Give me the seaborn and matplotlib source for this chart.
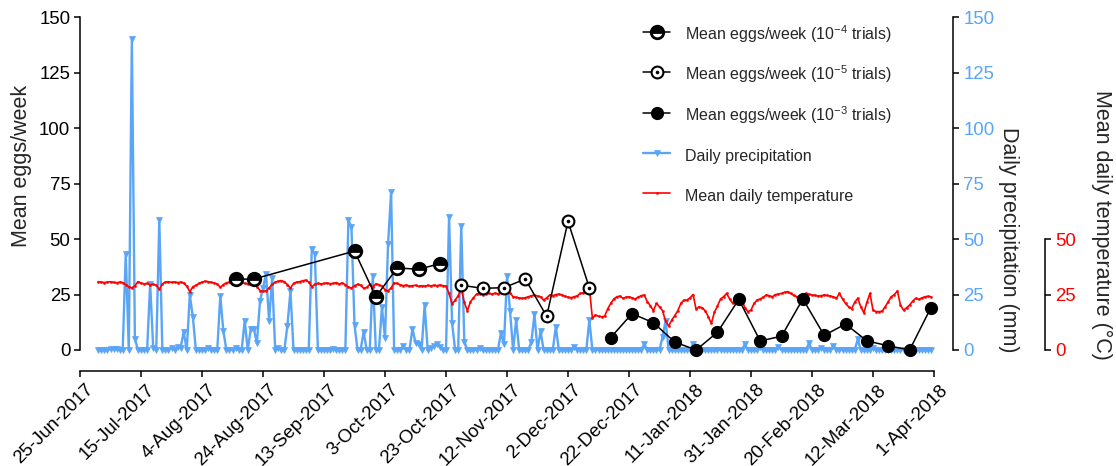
import numpy as np
import pandas as pd
import matplotlib
matplotlib.use("Agg")
import matplotlib.pyplot as plt
import matplotlib.transforms as mtransforms
import seaborn as sns

# ---------------- data ----------------
eggs_4_dates = ["2017-08-15", "2017-08-21", "2017-09-23", "2017-09-30", "2017-10-07", "2017-10-14", "2017-10-21"]
eggs_4_vals = [31.9, 32.0, 44.6, 24.0, 37.0, 36.4, 38.9]

eggs_5_dates = ["2017-10-28", "2017-11-04", "2017-11-11", "2017-11-18", "2017-11-25", "2017-12-02", "2017-12-09"]
eggs_5_vals = [29.2, 27.8, 28.1, 32.0, 15.2, 58.0, 28.0]

eggs_3_dates = ["2017-12-16", "2017-12-23", "2017-12-30", "2018-01-06", "2018-01-13", "2018-01-20",
                "2018-01-27", "2018-02-03", "2018-02-10", "2018-02-17", "2018-02-24", "2018-03-03",
                "2018-03-10", "2018-03-17", "2018-03-24", "2018-03-31"]
eggs_3_vals = [5.6, 16.4, 12.3, 3.6, 0.0, 8.0, 22.8, 4.1, 6.2, 23.0, 6.6, 11.7, 4.1, 1.9, 0.0, 19.1]

# daily precipitation (mm), one list per month
precip_jul = [0, 0, 0, 0, 0.5, 0.5, 0.5, 0, 0, 43.4, 0, 140, 5, 0, 0, 0, 0, 29.8, 1, 0, 58.7, 0, 0, 0, 1, 0, 1.5, 1, 8.3, 0, 24.8]
precip_aug = [14.9, 0, 0, 0, 0, 1, 0, 0, 0, 24.4, 8.5, 0, 0, 0, 1, 0, 0, 13.2, 0, 9.5, 9.5, 3, 22, 28, 34.3, 13.2, 32.4, 0, 1, 0, 0]
precip_sep = [11, 26.6, 0, 0, 0, 0, 0, 0, 45.5, 43.4, 0, 0, 0, 0, 0, 0.5, 0, 0, 0, 0, 58.5, 55.6, 11.3, 0, 0, 8.3, 0, 0, 33.2, 0]
precip_oct = [0, 19.5, 5.3, 47.6, 71.1, 0, 0, 0, 2, 0, 0, 9.5, 3.3, 2.5, 0, 20.3, 0, 0.7, 1.7, 2.7, 1.5, 0, 0, 60.1, 12, 0, 0, 55.9, 3.8, 0, 0]
precip_nov = [0, 0, 1, 0, 0, 0, 0, 0, 0, 7.5, 2.5, 33.4, 17.4, 0, 13.5, 0, 0, 0, 0, 3.8, 16.1, 0, 8.6, 0, 0, 0, 0, 10.5, 0, 0]
precip_dec = [0, 0, 0, 1.5, 0, 0, 0, 0, 13.5, 0, 0, 0, 0, 0, 0, 0, 0, 0, 0, 0, 0, 0, 0, 0, 0, 0, 2.7, 0, 0, 0, 0]
precip_jan = [0, 6, 13.2, 0, 0, 0, 0, 0, 0, 0, 0, 2.7, 0, 0, 0, 0, 0, 0, 0, 0, 0, 0, 0, 0, 0, 0, 0, 0, 2.7, 0, 0]
precip_feb = [0, 0, 1.5, 0, 0, 0, 0, 0, 1.5, 0, 0, 0, 0, 0, 0, 0, 0, 0, 3, 0, 0, 0, 1, 0, 0, 0, 2, 0]
precip_mar = [0, 0, 0, 0, 0, 0, 4.8, 0, 0, 0, 0, 1, 0, 0, 0, 0, 0, 0, 0, 0, 0, 0, 0, 0, 0, 0, 0, 0, 0, 0, 0]

# mean daily temperature (deg C), one list per month
temp_jul = [30.8, 30.6, 30.4, 30.6, 30.8, 30.5, 30.3, 30.6, 30.4, 29.5, 28.5, 28.0, 29.0, 30.8, 30.2, 29.8,
            30.0, 29.4, 29.6, 29.2, 27.3, 29.8, 30.6, 30.8, 30.5, 30.7, 30.4, 30.6, 30.2, 28.8, 26.3]
temp_aug = [28.5, 29.2, 30.0, 30.6, 31.0, 30.8, 30.5, 30.2, 29.8, 28.2, 29.5, 30.3, 30.6, 30.8, 30.6, 30.2,
            30.5, 30.0, 29.8, 30.4, 29.6, 28.6, 26.8, 26.4, 26.6, 28.0, 29.6, 30.6, 31.0, 31.3, 30.8]
temp_sep = [29.5, 27.8, 30.0, 30.6, 30.8, 31.2, 31.5, 30.6, 28.5, 29.6, 30.0, 29.8, 30.0, 30.2, 29.9, 30.0,
            30.4, 29.8, 30.2, 29.5, 28.3, 28.0, 29.0, 29.6, 29.2, 27.8, 28.2, 29.6, 28.4, 29.8]
temp_oct = [29.5, 28.8, 27.2, 26.6, 28.0, 30.2, 30.0, 29.4, 29.0, 29.3, 28.8, 29.0, 29.2, 28.7, 29.0, 28.8,
            29.1, 28.9, 29.2, 29.0, 29.3, 29.0, 28.8, 25.5, 20.7, 22.5, 24.5, 27.5, 21.5, 17.7, 21.7]
temp_nov = [23.5, 25.2, 25.4, 25.0, 25.3, 25.5, 25.2, 25.6, 25.3, 25.8, 26.2, 27.0, 25.8, 24.0, 23.7, 23.5,
            23.3, 23.6, 24.0, 24.5, 24.8, 24.3, 24.0, 22.5, 23.5, 24.8, 24.5, 25.0, 25.2, 24.8]
temp_dec = [24.2, 23.8, 23.6, 24.0, 24.4, 25.5, 25.8, 26.5, 28.0, 14.3, 15.8, 15.2, 15.0, 15.2, 18.5, 21.0,
            23.0, 24.0, 24.3, 23.3, 23.8, 24.0, 23.5, 23.0, 23.8, 24.5, 24.8, 21.8, 20.0, 17.7, 21.0]
temp_jan = [19.5, 17.7, 13.0, 10.8, 13.5, 15.5, 17.7, 21.0, 22.5, 22.5, 23.5, 25.0, 18.4, 19.5, 19.0, 17.7,
            15.0, 12.0, 17.0, 19.8, 23.0, 24.0, 25.5, 23.0, 21.0, 23.3, 23.0, 22.8, 19.0, 17.3, 18.0]
temp_feb = [21.0, 22.5, 23.0, 23.8, 24.8, 24.5, 24.0, 25.0, 25.2, 25.5, 26.0, 26.3, 25.5, 24.6, 24.0, 24.3,
            24.5, 25.5, 25.2, 24.8, 24.6, 24.3, 24.5, 24.8, 24.6, 24.3, 24.0, 23.3]
temp_mar = [25.5, 23.0, 21.0, 19.5, 18.6, 21.5, 23.3, 19.5, 16.8, 21.5, 25.5, 18.0, 17.3, 17.3, 17.5, 19.5,
            21.8, 24.0, 25.0, 26.6, 20.3, 18.0, 19.0, 20.3, 22.0, 23.3, 22.8, 23.5, 24.0, 24.2, 24.0]

month_starts = ["2017-07-01", "2017-08-01", "2017-09-01", "2017-10-01", "2017-11-01",
                "2017-12-01", "2018-01-01", "2018-02-01", "2018-03-01"]
precip_months = [precip_jul, precip_aug, precip_sep, precip_oct, precip_nov, precip_dec, precip_jan, precip_feb, precip_mar]
temp_months = [temp_jul, temp_aug, temp_sep, temp_oct, temp_nov, temp_dec, temp_jan, temp_feb, temp_mar]

legend_labels = ["Mean eggs/week (10$^{-4}$ trials)",
                 "Mean eggs/week (10$^{-5}$ trials)",
                 "Mean eggs/week (10$^{-3}$ trials)",
                 "Daily precipitation",
                 "Mean daily temperature"]

# ---------------- tables ----------------
def monthly_frame(starts, months, name):
    parts = []
    for s, vals in zip(starts, months):
        parts.append(pd.DataFrame({"date": pd.date_range(s, periods=len(vals), freq="D"), name: vals}))
    return pd.concat(parts, ignore_index=True)

df_precip = monthly_frame(month_starts, precip_months, "precip")
df_temp = monthly_frame(month_starts, temp_months, "temp")
df_e4 = pd.DataFrame({"date": pd.to_datetime(eggs_4_dates), "eggs": eggs_4_vals})
df_e5 = pd.DataFrame({"date": pd.to_datetime(eggs_5_dates), "eggs": eggs_5_vals})
df_e3 = pd.DataFrame({"date": pd.to_datetime(eggs_3_dates), "eggs": eggs_3_vals})

# ---------------- style ----------------
sns.set_theme(style="ticks")
plt.rcParams["font.family"] = ["Liberation Sans", "DejaVu Sans"]
plt.rcParams["mathtext.fontset"] = "custom"
plt.rcParams["mathtext.rm"] = "Liberation Sans"
plt.rcParams["mathtext.it"] = "Liberation Sans:italic"
plt.rcParams["mathtext.bf"] = "Liberation Sans:bold"

BLUE = "#5AA5F5"
RED = "#FF0000"
TICK_FS = 13.4
LABEL_FS = 15.5

W, H = 1116, 466
fig = plt.figure(figsize=(W / 100, H / 100), dpi=100, facecolor="white")
ax = fig.add_axes([80 / W, (H - 350) / H, 854 / W, 332.7 / H])
ax_p = ax.twinx()
ax_t = ax.twinx()
ax.set_zorder(3)
ax.patch.set_visible(False)
ax_p.set_zorder(1)
ax_t.set_zorder(2)

# precipitation
sns.lineplot(data=df_precip, x="date", y="precip", ax=ax_p, color=BLUE, lw=1.7,
             marker="v", markersize=4, markeredgecolor=BLUE, markeredgewidth=0.5,
             clip_on=False, legend=False)
# temperature
sns.lineplot(data=df_temp, x="date", y="temp", ax=ax_t, color=RED, lw=1.2,
             marker="o", markersize=1.6, markeredgecolor=RED, markeredgewidth=0.3,
             clip_on=False, legend=False)
# eggs
sns.lineplot(data=df_e4, x="date", y="eggs", ax=ax, color="black", lw=1.1,
             marker="o", markersize=9.0, fillstyle="top", markerfacecolor="black",
             markerfacecoloralt="white", markeredgecolor="black", markeredgewidth=2.0,
             clip_on=False, legend=False)
sns.lineplot(data=df_e5, x="date", y="eggs", ax=ax, color="black", lw=1.1,
             marker="o", markersize=8.5, markerfacecolor="white",
             markeredgecolor="black", markeredgewidth=1.5, clip_on=False, legend=False)
sns.lineplot(data=df_e5, x="date", y="eggs", ax=ax, color="black", lw=0,
             marker="o", markersize=2.6, markerfacecolor="black",
             markeredgecolor="black", markeredgewidth=0, clip_on=False, legend=False)
sns.lineplot(data=df_e3, x="date", y="eggs", ax=ax, color="black", lw=1.1,
             marker="o", markersize=8.5, markerfacecolor="black",
             markeredgecolor="black", markeredgewidth=1.0, clip_on=False, legend=False)

h4, h5, h5dot, h3 = ax.lines[0], ax.lines[1], ax.lines[2], ax.lines[3]
hp = ax_p.lines[0]
ht = ax_t.lines[0]

# ---------------- axes ----------------
x_start, x_end = pd.Timestamp("2017-06-25"), pd.Timestamp("2018-04-01")
xticks = pd.date_range(x_start, x_end, freq="20D")
xtick_labels = [f"{d.day}-{d.strftime('%b-%Y')}" for d in xticks]
for a in (ax, ax_p, ax_t):
    a.set_xlim(x_start, x_end)
    a.set_ylim(0, 150)

ax.set_xlabel("")
ax.set_yticks(np.arange(0, 151, 25))
ax_p.set_yticks(np.arange(0, 151, 25))
ax_t.set_yticks([0, 25, 50])

for a in (ax, ax_p, ax_t):
    for s in a.spines.values():
        s.set_color("black")
        s.set_linewidth(1.1)
    a.tick_params(colors="black", width=1.1, length=4.5, labelsize=TICK_FS)

ax.spines["top"].set_visible(False)
ax.spines["right"].set_visible(False)
ax.spines["bottom"].set_position(("outward", 15))
ax.tick_params(axis="y", pad=2.5)
ax.tick_params(axis="x", pad=3, labelrotation=45)

for a in (ax_p, ax_t):
    a.spines["top"].set_visible(False)
    a.spines["left"].set_visible(False)
    a.spines["bottom"].set_visible(False)
ax_p.spines["right"].set_position(("outward", 13.7))
ax_t.spines["right"].set_position(("outward", 80))
ax_t.spines["right"].set_bounds(0, 50)
ax_p.tick_params(axis="y", labelcolor=BLUE, pad=3)
ax_t.tick_params(axis="y", labelcolor=RED, pad=3)

ax.set_ylabel("Mean eggs/week", fontsize=LABEL_FS, va="center")
ax.yaxis.set_label_coords((22 - 80) / 854, (350 - 166) / 332.7)
ax_p.set_ylabel("Daily precipitation (mm)", fontsize=LABEL_FS, rotation=270, va="center")
ax_p.yaxis.set_label_coords((1009 - 80) / 854, (350 - 240) / 332.7)
ax_t.set_ylabel("Mean daily temperature (\u00b0C)", fontsize=LABEL_FS, rotation=270, va="center")
ax_t.yaxis.set_label_coords((1102 - 80) / 854, (350 - 225) / 332.7)

# ---------------- legend ----------------
leg = ax.legend([h4, (h5, h5dot), h3, hp, ht], legend_labels,
                loc="upper left", bbox_to_anchor=((643 - 80) / 854, (350 - 23) / 332.7),
                frameon=False, fontsize=11.5, handlelength=1.7, handleheight=1.7,
                handletextpad=0.95, labelspacing=1.15, borderpad=0, borderaxespad=0)

# x tick labels last so nothing resets them
ax.set_xticks(xticks)
ax.set_xticklabels(xtick_labels)
shift = mtransforms.ScaledTranslation(5 / 100, 0, fig.dpi_scale_trans)
for lab in ax.get_xticklabels():
    lab.set_rotation(45)
    lab.set_horizontalalignment("right")
    lab.set_rotation_mode("anchor")
    lab.set_transform(lab.get_transform() + shift)

fig.savefig("out.png", dpi=100, facecolor="white")
